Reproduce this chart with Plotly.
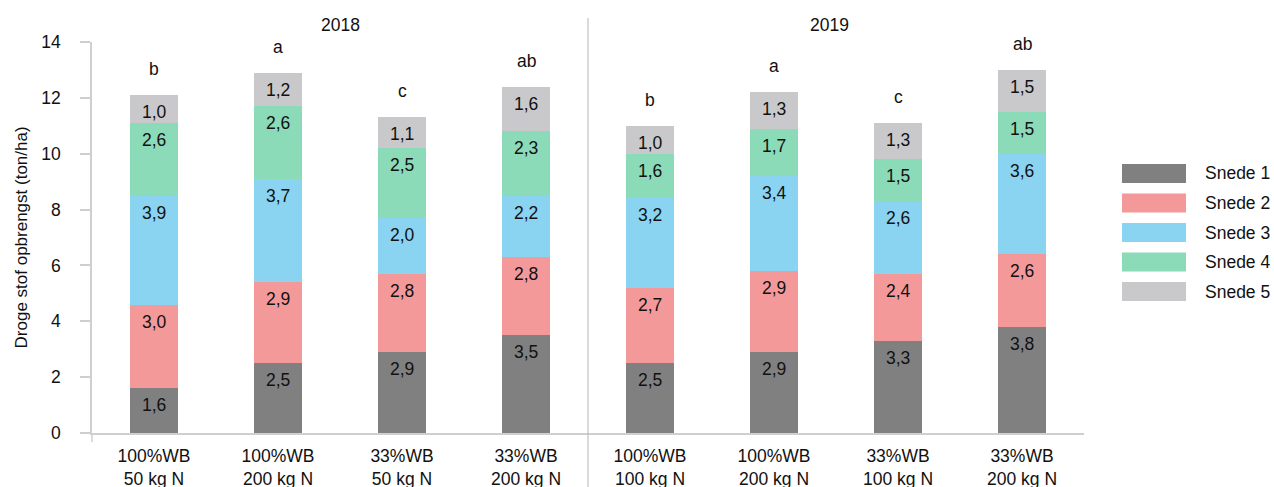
import plotly.graph_objects as go

categories = ["100%WB<br>50 kg N", "100%WB<br>200 kg N", "33%WB<br>50 kg N", "33%WB<br>200 kg N",
              "100%WB<br>100 kg N", "100%WB<br>200 kg N", "33%WB<br>100 kg N", "33%WB<br>200 kg N"]
snede1 = [1.6, 2.5, 2.9, 3.5, 2.5, 2.9, 3.3, 3.8]
snede2 = [3.0, 2.9, 2.8, 2.8, 2.7, 2.9, 2.4, 2.6]
snede3 = [3.9, 3.7, 2.0, 2.2, 3.2, 3.4, 2.6, 3.6]
snede4 = [2.6, 2.6, 2.5, 2.3, 1.6, 1.7, 1.5, 1.5]
snede5 = [1.0, 1.2, 1.1, 1.6, 1.0, 1.3, 1.3, 1.5]
letters = ["b", "a", "c", "ab", "b", "a", "c", "ab"]
years = ["2018", "2019"]
series_names = ["Snede 1", "Snede 2", "Snede 3", "Snede 4", "Snede 5"]
series = [snede1, snede2, snede3, snede4, snede5]
colors = ["#808080", "#F4999A", "#8AD3F1", "#8BDAB8", "#C9C9CB"]

FONT = "Liberation Sans, Arial, sans-serif"
FS = 17.5
TXT = "#111111"
x = list(range(len(categories)))

fig = go.Figure()
annotations = []
cum = [0.0] * len(categories)
for name, vals, col in zip(series_names, series, colors):
    fig.add_trace(go.Bar(x=x, y=vals, name=name, marker=dict(color=col, line=dict(width=0)),
                         width=0.38, showlegend=False, hoverinfo="y+name"))
    for i, v in enumerate(vals):
        cum[i] += v
        annotations.append(dict(x=x[i], y=cum[i], xref="x", yref="y", text=f"{v:.1f}".replace(".", ","),
                                showarrow=False, yshift=-17, yanchor="middle",
                                font=dict(size=FS, color=TXT, family=FONT)))

for i, l in enumerate(letters):
    annotations.append(dict(x=x[i], y=cum[i], xref="x", yref="y", text=l, showarrow=False,
                            yshift=26, yanchor="middle", font=dict(size=FS, color=TXT, family=FONT)))

annotations.append(dict(x=1.5, y=1.043, xref="x", yref="paper", text=years[0], showarrow=False,
                        yanchor="middle", font=dict(size=FS, color=TXT, family=FONT)))
annotations.append(dict(x=5.45, y=1.043, xref="x", yref="paper", text=years[1], showarrow=False,
                        yanchor="middle", font=dict(size=FS, color=TXT, family=FONT)))

annotations.append(dict(x=-0.0706, y=0.5, xref="paper", yref="paper", text="Droge stof opbrengst (ton/ha)",
                        textangle=-90, showarrow=False, xanchor="center", yanchor="middle",
                        font=dict(size=17, color=TXT, family=FONT)))

# plot geometry (pixels)
L, R, T, B = 92, 1084, 42, 433
W, H = R - L, B - T
def px(xp):
    return (xp - L) / W
def py(yp):
    return (B - yp) / H

shapes = []
# divider between years
shapes.append(dict(type="line", xref="x", yref="paper", x0=3.5, x1=3.5, y0=py(487), y1=py(18),
                   line=dict(color="#b5b5b5", width=1)))
# small tick below x-axis at origin
shapes.append(dict(type="line", xref="paper", yref="paper", x0=0, x1=0, y0=py(442), y1=0,
                   line=dict(color="#cfcfcf", width=1.5)))

# legend (manual)
for k, (name, col) in enumerate(zip(series_names, colors)):
    top = 164 + k * 29.5
    shapes.append(dict(type="rect", xref="paper", yref="paper", x0=px(1122), x1=px(1186),
                       y0=py(top + 19), y1=py(top), fillcolor=col, line=dict(width=0)))
    annotations.append(dict(x=px(1203), y=py(top + 9.5), xref="paper", yref="paper", text=name,
                            showarrow=False, xanchor="left", yanchor="middle",
                            font=dict(size=FS, color=TXT, family=FONT)))

fig.update_layout(
    barmode="stack",
    width=1274, height=487,
    margin=dict(l=L, r=1274 - R, t=T, b=487 - B, autoexpand=False),
    plot_bgcolor="white", paper_bgcolor="white",
    font=dict(family=FONT, size=FS, color=TXT),
    annotations=annotations, shapes=shapes,
    showlegend=False,
)
fig.update_xaxes(range=[-0.5, 7.5], tickvals=x, ticktext=categories, showgrid=False,
                 showline=True, linecolor="#cfcfcf", linewidth=1.5, ticks="", zeroline=False,
                 ticklabelstandoff=6,
                 tickfont=dict(size=FS, family=FONT, color=TXT), automargin=False)
fig.update_yaxes(range=[0, 14], dtick=2, showgrid=False, showline=True, linecolor="#cfcfcf",
                 linewidth=1.5, ticks="outside", ticklen=10, tickcolor="#cfcfcf", tickwidth=1.5,
                 ticklabelstandoff=16, zeroline=False,
                 tickfont=dict(size=FS, family=FONT, color=TXT), automargin=False)

fig.write_html("out.html", config={"displayModeBar": False},
               post_script="document.body.style.margin='0px';")
